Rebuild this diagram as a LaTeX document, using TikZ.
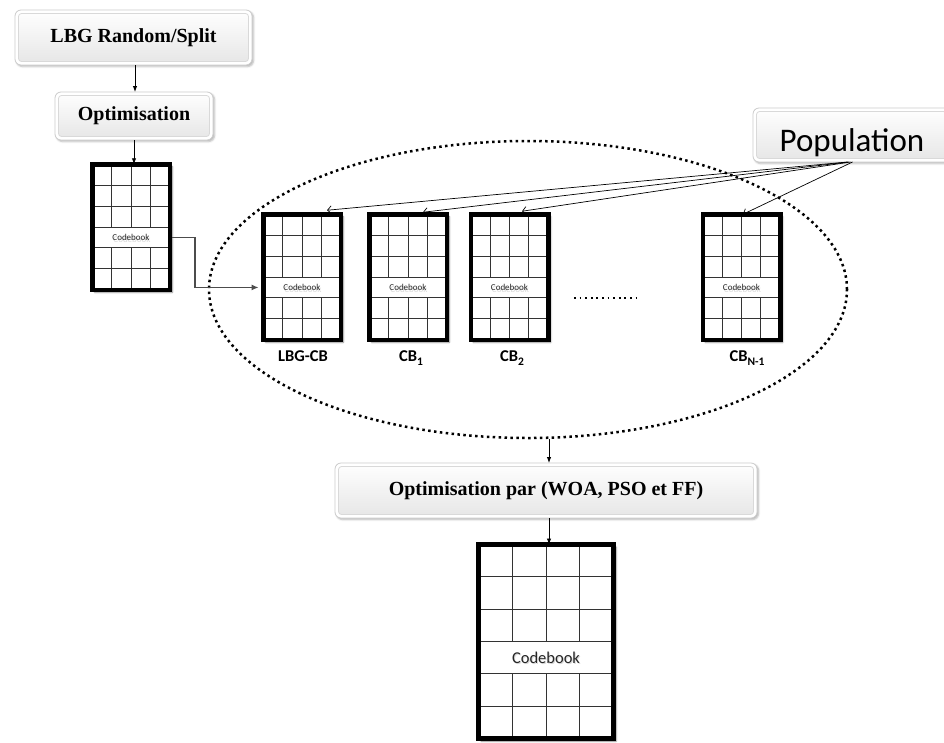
\documentclass[tikz,border=0pt]{standalone}
\usepackage{fontspec}
\setmainfont{Liberation Serif}
\newfontfamily\calibri{Carlito}
\usetikzlibrary{shadows,shadows.blur,arrows.meta,calc,shapes.geometric}

\tikzset{
  stage/.style={rounded corners=6pt, draw=gray!40, line width=0.8pt, fill=white,
    inner sep=0pt, outer sep=0pt,
    blur shadow={shadow xshift=1.5pt, shadow yshift=-1.5pt, shadow blur steps=4, shadow opacity=30},
    path picture={\shade[top color=white, bottom color=gray!20, draw=gray!30, rounded corners=3pt]
      ([shift={(3.5pt,-3.5pt)}]path picture bounding box.north west) rectangle
      ([shift={(-3.5pt,3.5pt)}]path picture bounding box.south east);},
    font=\bfseries\fontsize{20}{24}\selectfont},
  cbframe/.style={draw=black, fill=white, inner sep=0pt, outer sep=0pt,
    blur shadow={shadow xshift=2.5pt, shadow yshift=-2.5pt, shadow blur steps=5, shadow opacity=45}},
  cbgrid/.style={draw=black!80, line width=1pt},
  flow/.style={-{Latex[length=6pt,width=4.5pt]}, line width=0.9pt},
  feed/.style={-{Latex[length=7pt,width=6pt]}, draw=gray!60!black, line width=1.2pt},
  pick/.style={-{Straight Barb[length=4pt,width=8pt]}, line width=0.7pt},
  cblabel/.style={font=\calibri\bfseries\fontsize{16.5}{19}\selectfont, anchor=base},
  popset/.style={draw=black, ellipse, inner sep=0pt, line width=2.5pt,
    dash pattern=on 2.5pt off 3.4pt},
}

% subscript used in the codebook labels
\newcommand\cbsub[1]{\raisebox{-4pt}{\fontsize{11.5}{12}\selectfont #1}}

% \codebook{name}{cx}{cy}{outer width}{outer height}{font size}{frame width}
\newcommand\codebook[7]{%
  \pgfmathsetmacro\cbw{#4-#7}\pgfmathsetmacro\cbh{#5-#7}%
  \node[cbframe, line width=#7pt, minimum width=\cbw pt, minimum height=\cbh pt] (#1) at (#2,#3) {};
  \pgfmathsetmacro\cbl{#2-\cbw/2}\pgfmathsetmacro\cbr{#2+\cbw/2}%
  \pgfmathsetmacro\cbt{#3-\cbh/2}\pgfmathsetmacro\cbb{#3+\cbh/2}%
  \pgfmathsetmacro\cbs{\cbh/6}\pgfmathsetmacro\cbc{\cbw/4}%
  \pgfmathsetmacro\cbm{\cbt+3.5*\cbs}%
  \foreach \k in {1,...,5} \draw[cbgrid] (\cbl,\cbt+\k*\cbs) -- (\cbr,\cbt+\k*\cbs);
  \foreach \j in {1,2,3} {
    \draw[cbgrid] (\cbl+\j*\cbc,\cbt) -- (\cbl+\j*\cbc,\cbt+3*\cbs);
    \draw[cbgrid] (\cbl+\j*\cbc,\cbt+4*\cbs) -- (\cbl+\j*\cbc,\cbb);
  }
  \draw[line width=#7pt] (#1.north west) rectangle (#1.south east);
  \coordinate (#1-w) at (\cbl-#7/2,\cbm);
  \coordinate (#1-e) at (\cbr+#7/2,\cbm);
  \node[font=\calibri\fontsize{#6}{#6}\selectfont, text=black!25, opacity=0.6] at ($(#2,\cbm)+(1pt,-1.5pt)$) {Codebook};
  \node[font=\calibri\fontsize{#6}{#6}\selectfont, text=black!85] (#1-txt) at (#2,\cbm) {Codebook};
}

\begin{document}
\begin{tikzpicture}[x=1pt,y=-1pt]
  \useasboundingbox (0,0) rectangle (944,742);

  % initial stages
  \node[stage, minimum width=237pt, minimum height=55pt] (lbg) at (133.5,37.5) {LBG Random/Split};
  \node[stage, minimum width=158pt, minimum height=48pt] (opt1) at (134,116) {Optimisation};

  % initial codebook
  \codebook{cb0}{131}{227}{82}{130}{9}{4.5}

  % population of codebooks
  \node[popset, minimum width=638pt, minimum height=297pt] (pset) at (528,289.5) {};
  \codebook{lbgcb}{302}{277}{82}{130}{9}{4.5}
  \codebook{cb1}{408}{277}{82}{130}{9}{4.5}
  \codebook{cb2}{509.5}{277}{82}{130}{9}{4.5}
  \codebook{cbn}{741.5}{277}{82}{130}{9}{4.5}
  \draw[line width=1.8pt, dash pattern=on 1.8pt off 3.8pt] (574,298) -- (641,298);

  \node[cblabel] (l0) at (303,361) {LBG-CB};
  \node[cblabel] (l1) at (411,361) {CB\cbsub{1}};
  \node[cblabel] (l2) at (512,361) {CB\cbsub{2}};
  \node[cblabel] (ln) at (747,361) {CB\cbsub{N-1}};

  % population label
  \node[stage, minimum width=197pt, minimum height=54pt] (pop) at (851.5,135) {};
  \node[font=\calibri\fontsize{33}{36}\selectfont, anchor=base] (poptxt) at (852,151) {Population};

  % final stage
  \node[stage, minimum width=422pt, minimum height=55pt] (opt2) at (546,490.5) {Optimisation par (WOA, PSO et FF)};
  \codebook{cbf}{546}{641.5}{140}{199}{16.5}{5}

  % connectors
  \draw[flow] (lbg.south -| opt1.north) ++(1,0) -- ([xshift=1pt]opt1.north);
  \draw[flow] (opt1.south) -- (opt1.south |- cb0.north);
  \draw[feed] (cb0-e) -| ($(cb0-e)+(23,0)$) |- ([xshift=-2.5pt]lbgcb-w);
  \draw[flow] ([xshift=3pt]opt2.north |- pset.south) -- ([xshift=3pt]opt2.north);
  \draw[flow] ([xshift=3pt]opt2.south) -- ([xshift=3pt]opt2.south |- cbf.north);

  \draw[pick] ([xshift=-4pt]pop.south) -- ([shift={(25pt,4pt)}]lbgcb.north);
  \draw[pick] ([xshift=-3pt]pop.south) -- ([shift={(15pt,2pt)}]cb1.north);
  \draw[pick] ([xshift=-1pt]pop.south) -- ([shift={(12.5pt,3pt)}]cb2.north);
  \draw[pick] ([xshift=1pt]pop.south) -- ([shift={(1.5pt,0pt)}]cbn.north);
\end{tikzpicture}
\end{document}
